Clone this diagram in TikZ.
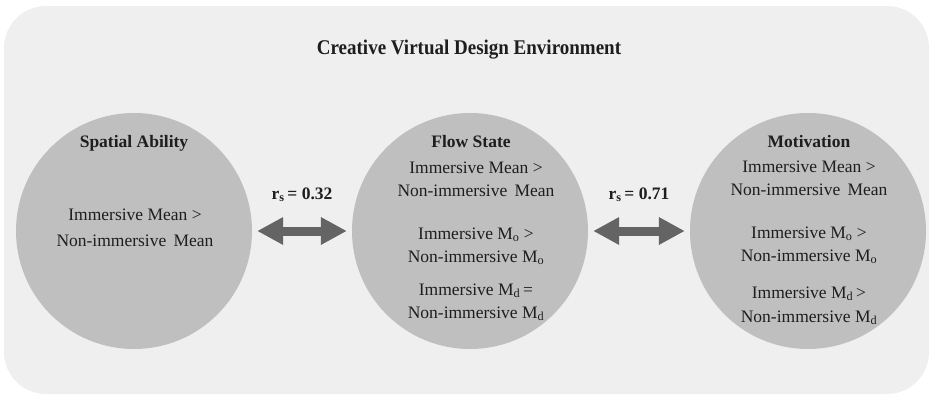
\documentclass[tikz,border=0pt]{standalone}
\usepackage{fontspec}
\setmainfont{Liberation Serif}
\usetikzlibrary{arrows.meta}
\definecolor{bgcol}{HTML}{EFEFEF}
\definecolor{circcol}{HTML}{BFBFBF}
\definecolor{arrcol}{HTML}{646464}
\definecolor{txtcol}{HTML}{1E1E1E}
\begin{document}
\begin{tikzpicture}[x=1pt,y=-1pt,
  bubble/.style={circle,fill=circcol,draw=none,minimum size=236pt,inner sep=0pt},
  head/.style={font=\fontsize{17.5}{20}\selectfont\bfseries,text=txtcol,anchor=base,inner sep=0pt},
  body/.style={font=\fontsize{17.5}{20}\selectfont,text=txtcol,anchor=base,inner sep=0pt},
  rlabel/.style={font=\fontsize{17.5}{20}\selectfont\bfseries,text=txtcol,anchor=base,inner sep=0pt},
  dblarrow/.style={draw=arrcol,line width=9pt,{Triangle[length=26pt,width=26pt]}-{Triangle[length=26pt,width=26pt]},shorten <=5pt,shorten >=5pt}
]
\useasboundingbox (0,0) rectangle (930,397);
\fill[bgcol,rounded corners=42pt] (4,6) rectangle (929,394);
\node[font=\fontsize{19}{22}\selectfont\bfseries,text=txtcol,anchor=base,inner sep=0pt] (title) at (469,54) {\scalebox{1}[1.1]{Creative Virtual Design Environment}};

\node[bubble] (sa) at (134,231) {};
\node[bubble] (fs) at (470,231) {};
\node[bubble] (mo) at (808,231) {};

\draw[dblarrow] (sa) -- (fs);
\draw[dblarrow] (fs) -- (mo);

\node[rlabel] (r1) at (302,199) {r\textsubscript{s}\,= 0.32};
\node[rlabel] (r2) at (639,199) {r\textsubscript{s}\,= 0.71};

% Spatial Ability
\node[head] (sah) at (134,147) {Spatial Ability};
\node[body] (sa1) at (135,220) {Immersive Mean >};
\node[body] (sa2) at (135,246) {Non-immersive\, Mean};

% Flow State
\node[head] (fsh) at (471,147) {Flow State};
\node[body] (fs1) at (476,173) {Immersive Mean >};
\node[body] (fs2) at (476,196) {Non-immersive\, Mean};
\node[body] (fs3) at (476,239) {Immersive M\textsubscript{o} >};
\node[body] (fs4) at (476,262) {Non-immersive M\textsubscript{o}};
\node[body] (fs5) at (476,295) {Immersive M\textsubscript{d}\,=};
\node[body] (fs6) at (476,318) {Non-immersive M\textsubscript{d}};

% Motivation
\node[head] (moh) at (809,147) {Motivation};
\node[body] (mo1) at (809,172) {Immersive Mean >};
\node[body] (mo2) at (809,195) {Non-immersive\, Mean};
\node[body] (mo3) at (809,238) {Immersive M\textsubscript{o} >};
\node[body] (mo4) at (809,261) {Non-immersive M\textsubscript{o}};
\node[body] (mo5) at (809,298) {Immersive M\textsubscript{d}\,>};
\node[body] (mo6) at (809,322) {Non-immersive M\textsubscript{d}};
\end{tikzpicture}
\end{document}
